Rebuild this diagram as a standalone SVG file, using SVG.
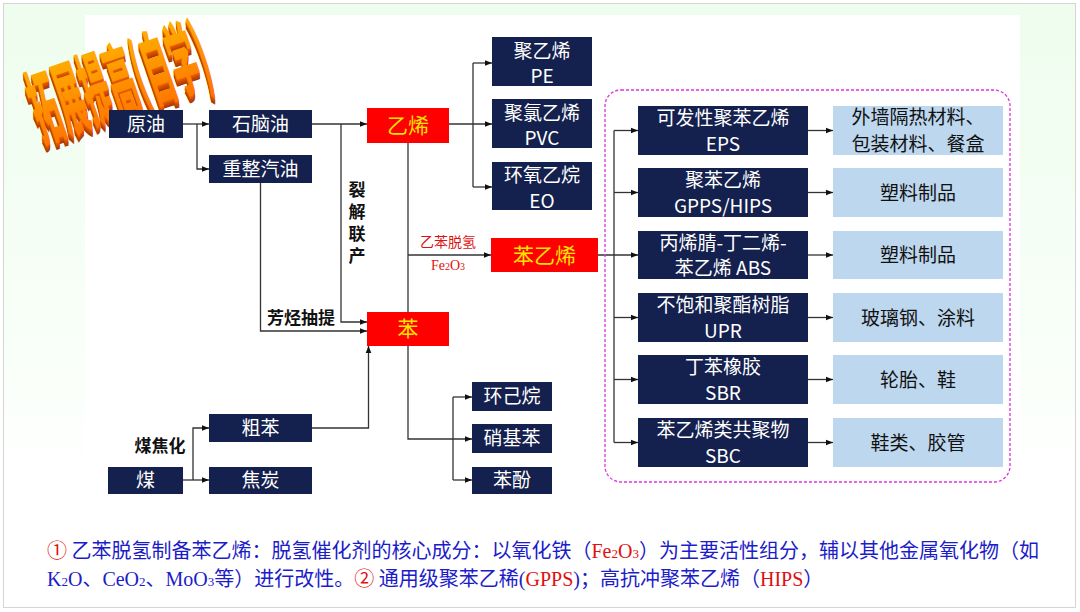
<svg xmlns="http://www.w3.org/2000/svg" width="1080" height="612" viewBox="0 0 1080 612">
<defs>
<linearGradient id="bg" x1="0" y1="0" x2="0" y2="1">
<stop offset="0" stop-color="#eefdee"/>
<stop offset="0.55" stop-color="#f8fff8"/>
<stop offset="0.8" stop-color="#ffffff"/>
</linearGradient>
<linearGradient id="og" x1="0" y1="0" x2="0" y2="1">
<stop offset="0" stop-color="#ffc000"/>
<stop offset="0.6" stop-color="#ff8c00"/>
<stop offset="1" stop-color="#ff6a00"/>
</linearGradient>
<marker id="ah" viewBox="0 0 10 10" refX="10" refY="5" markerWidth="7" markerHeight="7" markerUnits="userSpaceOnUse" orient="auto">
<path d="M0,1 L10,5 L0,9 Z" fill="#111"/>
</marker>
<style>
.dk{fill:#14204e;}
.rd{fill:#ff0000;}
.lb{fill:#bdd7ee;}
.wt{fill:#ffffff;font-family:"Noto Sans CJK SC","Noto Sans",sans-serif;font-size:19px;text-anchor:middle;}
.yt{fill:#ffe600;font-family:"Noto Sans CJK SC",sans-serif;font-size:21px;text-anchor:middle;}
.bt{fill:#111;font-family:"Noto Sans CJK SC",sans-serif;font-size:19px;text-anchor:middle;}
.lbl{fill:#111;font-family:"Noto Sans CJK SC",sans-serif;font-size:17px;font-weight:bold;text-anchor:middle;}
.cn path{fill:none;stroke:#333;stroke-width:1.3;}
.ar{marker-end:url(#ah);}
.note{font-family:"Liberation Serif","Noto Sans CJK SC",serif;font-size:20px;fill:#1c1cc8;}
.cjk{font-family:"Noto Sans CJK SC",sans-serif;}
.red{fill:#e01010;}
.sub{font-size:13px;}
</style>
</defs>
<rect x="3.5" y="3.5" width="1072" height="604" fill="url(#bg)" stroke="#d4d4d4"/>
<rect x="85" y="15" width="935" height="592" fill="#ffffff"/>

<g id="title" font-family="'Noto Sans CJK SC',sans-serif" font-weight="900" font-size="38">
<g transform="translate(42,140) rotate(-19) scale(0.71,2.15)">
<text x="-2.6" y="3.0" fill="#a83800">拓展提高(自学)</text>
<text x="-2.1" y="2.4" fill="#b84000">拓展提高(自学)</text>
<text x="-1.6" y="1.8" fill="#c84800">拓展提高(自学)</text>
<text x="-1.1" y="1.2" fill="#d85200">拓展提高(自学)</text>
<text x="-0.5" y="0.6" fill="#e86000">拓展提高(自学)</text>
<text x="0" y="0" fill="url(#og)">拓展提高(自学)</text>
</g>
</g>

<g class="cn" id="connectors">
<path class="ar" d="M183,124 H209"/>
<path class="ar" d="M197,124 V169 H209"/>
<path class="ar" d="M312,124 H367"/>
<path class="ar" d="M341,124 V322 H367"/>
<path class="ar" d="M260.5,183 V331 H367"/>
<path d="M408,143 V312"/>
<path class="ar" d="M408,346 V439 H472"/>
<path class="ar" d="M408,255 H491"/>
<path class="ar" d="M449,124 H492"/>
<path d="M473,63 V187"/>
<path class="ar" d="M473,63 H492"/>
<path class="ar" d="M473,187 H492"/>
<path class="ar" d="M183,480 H209"/>
<path class="ar" d="M193,480 V428 H209"/>
<path class="ar" d="M312,428 H368.5 V346"/>
<path d="M453,397 V480"/>
<path class="ar" d="M453,397 H472"/>
<path class="ar" d="M453,480 H472"/>
<path class="ar" d="M598,255 H638"/>
<path d="M614,130.5 V442.5"/>
<path class="ar" d="M614,130.5 H638"/>
<path class="ar" d="M614,192.5 H638"/>
<path class="ar" d="M614,317.5 H638"/>
<path class="ar" d="M614,379.5 H638"/>
<path class="ar" d="M614,442.5 H638"/>
<path class="ar" d="M808,130.5 H833"/>
<path class="ar" d="M808,192.5 H833"/>
<path class="ar" d="M808,255 H833"/>
<path class="ar" d="M808,317.5 H833"/>
<path class="ar" d="M808,379.5 H833"/>
<path class="ar" d="M808,442.5 H833"/>
</g>

<text class="lbl" x="357" y="181" writing-mode="vertical-rl" letter-spacing="5" style="text-anchor:start">裂解联产</text>
<text class="lbl" x="301" y="324">芳烃抽提</text>
<text class="lbl" x="160" y="452">煤焦化</text>
<text x="448" y="247" font-family="'Noto Sans CJK SC',sans-serif" font-size="14" fill="#e01010" text-anchor="middle">乙苯脱氢</text>
<text x="448" y="270" font-family="'Liberation Serif',serif" font-size="14" fill="#e01010" text-anchor="middle">Fe<tspan font-size="10">2</tspan>O<tspan font-size="10">3</tspan></text>

<rect id="group-box" x="605" y="90" width="405" height="392" rx="16" fill="none" stroke="#e030e0" stroke-width="1.3" stroke-dasharray="3,2"/>

<g id="n-yuanyou"><rect class="dk" x="109" y="110" width="74" height="28"/><text class="wt" x="146" y="131" font-size="20">原油</text></g>
<g id="n-shinaoyou"><rect class="dk" x="209" y="110" width="103" height="28"/><text class="wt" x="260.5" y="131" font-size="20">石脑油</text></g>
<g id="n-chongzheng"><rect class="dk" x="209" y="155" width="103" height="28"/><text class="wt" x="260.5" y="176" font-size="20">重整汽油</text></g>
<g id="n-yixi"><rect class="rd" x="367" y="108" width="82" height="35"/><text class="yt" x="408" y="133">乙烯</text></g>
<g id="n-ben"><rect class="rd" x="367" y="312" width="82" height="34"/><text class="yt" x="408" y="336">苯</text></g>
<g id="n-benyixi"><rect class="rd" x="491" y="238" width="107" height="34"/><text class="yt" x="544.5" y="263">苯乙烯</text></g>
<g id="n-pe"><rect class="dk" x="492" y="37" width="100" height="49"/><text class="wt" x="542" y="58">聚乙烯</text><text class="wt" x="542" y="83">PE</text></g>
<g id="n-pvc"><rect class="dk" x="492" y="99" width="100" height="49"/><text class="wt" x="542" y="120">聚氯乙烯</text><text class="wt" x="542" y="145">PVC</text></g>
<g id="n-eo"><rect class="dk" x="492" y="162" width="100" height="48"/><text class="wt" x="542" y="182">环氧乙烷</text><text class="wt" x="542" y="207.5">EO</text></g>
<g id="n-huanjiwan"><rect class="dk" x="472" y="382" width="80" height="29"/><text class="wt" x="512" y="403" font-size="20">环己烷</text></g>
<g id="n-xiaojiben"><rect class="dk" x="472" y="424" width="80" height="29"/><text class="wt" x="512" y="445" font-size="20">硝基苯</text></g>
<g id="n-benfen"><rect class="dk" x="472" y="467" width="80" height="27"/><text class="wt" x="512" y="487" font-size="20">苯酚</text></g>
<g id="n-cuben"><rect class="dk" x="209" y="414" width="103" height="28"/><text class="wt" x="260.5" y="435" font-size="20">粗苯</text></g>
<g id="n-mei"><rect class="dk" x="108" y="467" width="75" height="27"/><text class="wt" x="145.5" y="487" font-size="20">煤</text></g>
<g id="n-jiaotan"><rect class="dk" x="209" y="467" width="103" height="27"/><text class="wt" x="260.5" y="487" font-size="20">焦炭</text></g>

<g id="n-eps"><rect class="dk" x="638" y="106" width="170" height="49"/><text class="wt" x="723" y="125" font-size="20">可发性聚苯乙烯</text><text class="wt" x="723" y="151">EPS</text></g>
<g id="n-gpps"><rect class="dk" x="638" y="168" width="170" height="49"/><text class="wt" x="723" y="187" font-size="20">聚苯乙烯</text><text class="wt" x="723" y="213">GPPS/HIPS</text></g>
<g id="n-abs"><rect class="dk" x="638" y="231" width="170" height="48"/><text class="wt" x="723" y="250" font-size="20">丙烯腈-丁二烯-</text><text class="wt" x="723" y="275">苯乙烯 ABS</text></g>
<g id="n-upr"><rect class="dk" x="638" y="293" width="170" height="49"/><text class="wt" x="723" y="312" font-size="20">不饱和聚酯树脂</text><text class="wt" x="723" y="338">UPR</text></g>
<g id="n-sbr"><rect class="dk" x="638" y="355" width="170" height="49"/><text class="wt" x="723" y="374" font-size="20">丁苯橡胶</text><text class="wt" x="723" y="400">SBR</text></g>
<g id="n-sbc"><rect class="dk" x="638" y="418" width="170" height="49"/><text class="wt" x="723" y="437" font-size="20">苯乙烯类共聚物</text><text class="wt" x="723" y="463">SBC</text></g>

<g id="u-eps"><rect class="lb" x="833" y="106" width="170" height="49"/><text class="bt" x="918" y="124">外墙隔热材料、</text><text class="bt" x="918" y="151">包装材料、餐盒</text></g>
<g id="u-gpps"><rect class="lb" x="833" y="168" width="170" height="49"/><text class="bt" x="918" y="200" font-size="20">塑料制品</text></g>
<g id="u-abs"><rect class="lb" x="833" y="231" width="170" height="48"/><text class="bt" x="918" y="262" font-size="20">塑料制品</text></g>
<g id="u-upr"><rect class="lb" x="833" y="293" width="170" height="49"/><text class="bt" x="918" y="325" font-size="20">玻璃钢、涂料</text></g>
<g id="u-sbr"><rect class="lb" x="833" y="355" width="170" height="49"/><text class="bt" x="918" y="387" font-size="20">轮胎、鞋</text></g>
<g id="u-sbc"><rect class="lb" x="833" y="418" width="170" height="49"/><text class="bt" x="918" y="450" font-size="20">鞋类、胶管</text></g>

<text class="note" x="47" y="558"><tspan class="cjk red">①</tspan><tspan class="cjk"> 乙苯脱氢制备苯乙烯：脱氢催化剂的核心成分：以氧化铁（</tspan><tspan class="red">Fe<tspan class="sub">2</tspan>O<tspan class="sub">3</tspan></tspan><tspan class="cjk">）为主要活性组分，辅以其他金属氧化物（如</tspan></text>
<text class="note" x="47" y="586">K<tspan class="sub">2</tspan>O<tspan class="cjk">、</tspan>CeO<tspan class="sub">2</tspan><tspan class="cjk">、</tspan>MoO<tspan class="sub">3</tspan><tspan class="cjk">等）进行改性。</tspan><tspan class="cjk red">②</tspan><tspan class="cjk"> 通用级聚苯乙稀</tspan>(<tspan class="red">GPPS</tspan>)<tspan class="cjk">；高抗冲聚苯乙烯（</tspan><tspan class="red">HIPS</tspan><tspan class="cjk">）</tspan></text>
</svg>
